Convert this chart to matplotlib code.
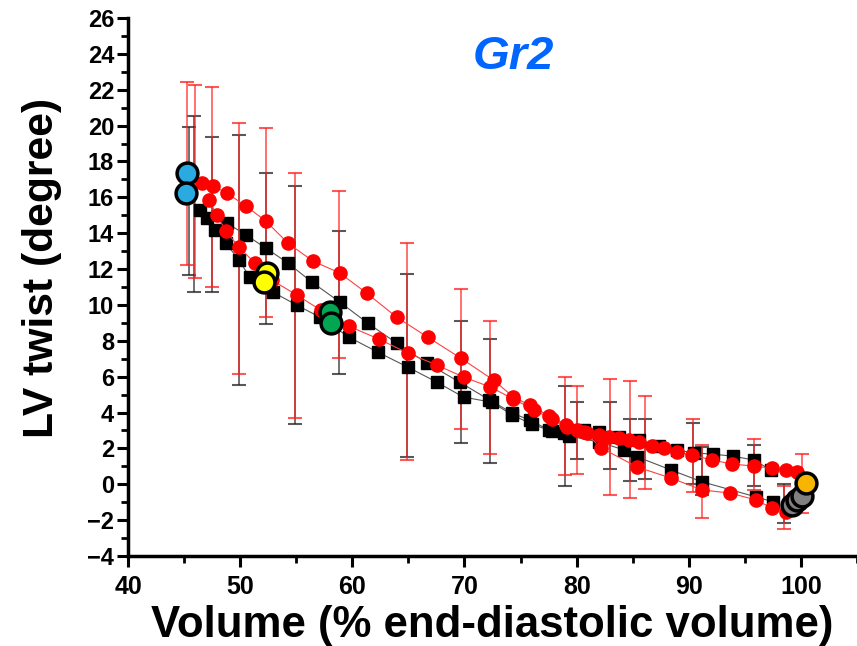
import numpy as np
import matplotlib
matplotlib.use('Agg')
import matplotlib.pyplot as plt
from matplotlib.ticker import MultipleLocator

plt.rcParams['font.family'] = ['Liberation Sans', 'DejaVu Sans']
plt.rcParams['font.weight'] = 'bold'

# red loop, upper branch
red_a_x = [46.56, 47.57, 48.82, 50.51, 52.29, 54.25, 56.47, 58.88, 61.28, 63.95,
           66.71, 69.65, 72.59, 74.37, 75.80, 77.58, 79.09, 80.07, 80.96, 82.03,
           82.92, 83.81, 84.70, 85.59, 86.75, 87.82, 88.98, 90.31, 92.09, 93.87,
           95.83, 97.43, 98.68, 99.66]
red_a_y = [16.78, 16.63, 16.24, 15.51, 14.68, 13.45, 12.45, 11.78, 10.66, 9.32,
           8.21, 7.04, 5.81, 4.86, 4.42, 3.80, 3.30, 3.02, 2.85, 2.74,
           2.63, 2.58, 2.46, 2.35, 2.13, 2.02, 1.79, 1.63, 1.35, 1.13,
           1.01, 0.90, 0.79, 0.68]
# red loop, lower branch
red_b_x = [47.21, 47.93, 48.73, 49.88, 51.31, 52.82, 55.05, 57.19, 59.68, 62.35,
           64.93, 67.52, 69.92, 72.32, 74.37, 76.24, 77.76, 79.18, 80.70, 82.21,
           85.41, 88.44, 91.20, 93.70, 96.01, 97.43, 98.68]
red_b_y = [15.85, 15.01, 14.12, 13.23, 12.34, 11.39, 10.55, 9.71, 8.82, 8.10,
           7.32, 6.65, 5.98, 5.42, 4.75, 4.14, 3.64, 3.19, 2.91, 2.02,
           0.96, 0.34, -0.32, -0.49, -0.88, -1.33, -1.55]
# black loop, upper branch
blk_a_x = [46.41, 47.03, 48.82, 50.51, 52.29, 54.25, 56.38, 58.88, 61.37, 63.95,
           66.63, 69.56, 72.23, 74.28, 75.80, 77.58, 78.91, 80.70, 82.03, 83.81,
           85.59, 87.37, 88.98, 90.49, 92.12, 93.90, 95.83, 97.31]
blk_a_y = [15.29, 14.85, 14.57, 13.90, 13.17, 12.34, 11.28, 10.16, 8.99, 7.87,
           6.76, 5.70, 4.70, 3.97, 3.58, 3.02, 2.85, 3.02, 2.91, 2.63,
           2.46, 2.13, 1.91, 1.75, 1.68, 1.57, 1.35, 0.79]
# black loop, lower branch
blk_b_x = [47.75, 48.73, 49.88, 50.86, 52.91, 55.05, 57.10, 59.68, 62.26, 64.93,
           67.52, 69.92, 72.41, 74.28, 75.98, 77.76, 79.36, 82.03, 84.26, 85.41,
           88.44, 91.17, 95.98, 97.52]
blk_b_y = [14.18, 13.45, 12.50, 11.56, 10.72, 9.99, 9.32, 8.21, 7.37, 6.54,
           5.70, 4.86, 4.58, 3.86, 3.36, 2.97, 2.69, 2.35, 1.91, 1.53,
           0.79, 0.14, -0.70, -0.98]

# error bars (low / high ends)
red_err_x = [45.3, 45.95, 47.5, 49.85, 52.26, 54.93, 58.85, 64.9, 69.65, 72.32,
             79.0, 80.0, 83.0, 84.8, 86.1, 90.4, 91.2, 95.8, 98.5, 100.1]
red_err_lo = [12.2, 11.48, 11.02, 6.13, 9.34, 3.67, 7.05, 1.35, 3.08, 1.68,
              0.51, 0.57, -0.60, -0.79, -0.28, -0.42, -1.90, -0.3, -2.5, -1.6]
red_err_hi = [22.45, 22.26, 22.17, 20.16, 19.88, 17.34, 16.35, 13.43, 10.89, 9.12,
              6.0, 5.48, 5.87, 5.77, 4.93, 3.63, 2.2, 2.5, -0.1, 1.67]
blk_err_x = [45.4, 45.9, 47.5, 49.85, 52.26, 54.93, 58.85, 64.9, 69.65, 72.32,
             79.0, 80.0, 83.0, 84.8, 86.1, 90.4, 91.2, 95.8, 98.5]
blk_err_lo = [11.67, 10.73, 10.70, 5.53, 8.93, 3.36, 6.13, 1.5, 2.28, 1.16,
              -0.08, 1.40, 0.85, 0.20, 0.29, 0.0, -0.6, -0.10, -2.18]
blk_err_hi = [19.92, 20.53, 19.35, 19.47, 17.34, 16.65, 14.12, 11.70, 9.12, 8.08,
              5.5, 4.57, 4.60, 3.62, 3.62, 3.39, 2.06, 2.2, 0.0]

# highlighted time points
cyan_x, cyan_y = [45.25, 45.2], [17.35, 16.25]
yellow_x, yellow_y = [52.4, 52.1], [11.8, 11.3]
green_x, green_y = [58.0, 58.1], [9.6, 9.0]
orange_x, orange_y = [100.44], [0.05]
gray_x, gray_y = [99.19, 99.69, 100.13], [-1.16, -0.88, -0.66]

fig = plt.figure(figsize=(8.57, 6.46), dpi=100)
ax = fig.add_axes([0.1494, 0.1393, 0.8506, 0.8328])

def draw_err(x, lo, hi, color, alpha, z):
    x = np.array(x); lo = np.array(lo); hi = np.array(hi)
    ax.errorbar(x, (lo + hi) / 2, yerr=(hi - lo) / 2, fmt='none', ecolor=color,
                elinewidth=1.2, capsize=5, capthick=1.5, alpha=alpha, zorder=z)

draw_err(blk_err_x, blk_err_lo, blk_err_hi, '#222222', 0.75, 1)
draw_err(red_err_x, red_err_lo, red_err_hi, '#ff2020', 0.75, 2)

for xs, ys in [(blk_a_x, blk_a_y), (blk_b_x, blk_b_y)]:
    ax.plot(xs, ys, color='#555555', lw=0.8, zorder=3)
    ax.plot(xs, ys, ls='none', marker='s', ms=8, color='black', zorder=4)
for xs, ys in [(red_a_x, red_a_y), (red_b_x, red_b_y)]:
    ax.plot(xs, ys, color='#ff4040', lw=0.8, zorder=5)
    ax.plot(xs, ys, ls='none', marker='o', ms=9.5, color='#ff0000', zorder=6)

for xs, ys, c in [(cyan_x, cyan_y, '#29abe2'), (yellow_x, yellow_y, '#ffff00'),
                  (green_x, green_y, '#00a651'), (gray_x, gray_y, '#808080'),
                  (orange_x, orange_y, '#f7b500')]:
    ax.plot(xs, ys, ls='none', marker='o', ms=15, mfc=c, mec='black', mew=2.5, zorder=7)

ax.set_xlim(40, 105)
ax.set_ylim(-4, 26)
ax.xaxis.set_major_locator(MultipleLocator(10))
ax.xaxis.set_minor_locator(MultipleLocator(5))
ax.yaxis.set_major_locator(MultipleLocator(2))
ax.yaxis.set_minor_locator(MultipleLocator(1))
ax.set_xticks(range(40, 101, 10))
for s in ['top', 'right']:
    ax.spines[s].set_visible(False)
for s in ['left', 'bottom']:
    ax.spines[s].set_linewidth(2.5)
ax.tick_params(which='major', length=8, width=2.2, direction='out')
ax.tick_params(which='minor', length=5, width=2.0, direction='out')
ax.tick_params(axis='y', labelsize=17, pad=2)
ax.tick_params(axis='x', labelsize=18, pad=6)
for lab in ax.get_xticklabels() + ax.get_yticklabels():
    lab.set_fontweight('bold')

ax.set_xlabel('Volume (% end-diastolic volume)', fontsize=31.5, fontweight='bold', labelpad=4)
ax.set_ylabel('LV twist (degree)', fontsize=30.7, fontweight='bold')
ax.yaxis.set_label_coords(-0.09, 0.535)
ax.text(74.4, 23.8, 'Gr2', color='#0066ff', fontsize=34, fontweight='bold',
        fontstyle='italic', ha='center', va='center')

plt.savefig('out.png', dpi=100)
